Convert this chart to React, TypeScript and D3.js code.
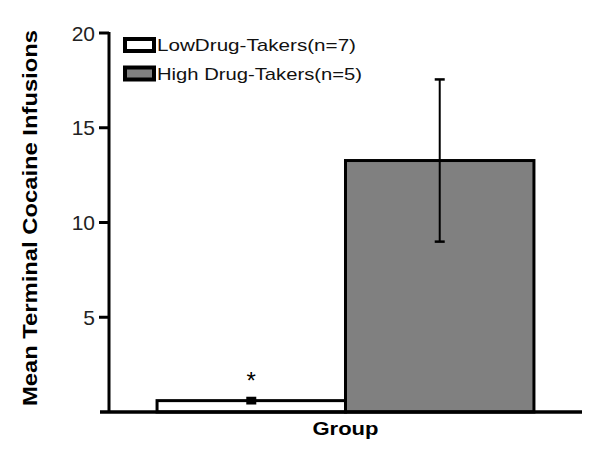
import React from "react";
import * as d3 from "d3";

const groups = ["LowDrug-Takers(n=7)", "High Drug-Takers(n=5)"];
const means = [0.6, 13.27];
const sems = [0.1, 4.28];
const fills = ["#ffffff", "#808080"];
const yTicks = [5, 10, 15, 20];
const yTitle = "Mean Terminal Cocaine Infusions";
const xTitle = "Group";
const legendWidths = [199, 205];

export default function App() {
  const W = 603, H = 455;
  const x0 = 109, x1 = 582;
  const y = d3.scaleLinear().domain([0, 20]).range([412, 33]);
  const x = d3.scaleBand<string>().domain(groups).range([x0, x1]).paddingInner(0).paddingOuter(0.255);
  const bw = x.bandwidth();
  const font = "Arial, 'Liberation Sans', sans-serif";
  const mid = (x(groups[0])! + x(groups[1])! + bw) / 2;

  return (
    <svg width={W} height={H} style={{ position: "absolute", left: 0, top: 0, background: "#fff" }}>
      <rect x={0} y={0} width={W} height={H} fill="#fff" />
      {/* bars */}
      {groups.map((g, i) => (
        <rect key={g} x={x(g)} y={y(means[i])} width={bw} height={y(0) - y(means[i])}
          fill={fills[i]} stroke="#000" strokeWidth={3} />
      ))}
      {/* error bars */}
      {groups.map((g, i) => {
        const cx = x(g)! + bw / 2;
        const yt = y(means[i] + sems[i]);
        const yb = y(means[i] - sems[i]);
        return (
          <g key={"e" + g} stroke="#000">
            <line x1={cx} x2={cx} y1={yt} y2={yb} strokeWidth={i === 0 ? 4 : 2} />
            <line x1={cx - 5} x2={cx + 5} y1={yt} y2={yt} strokeWidth={i === 0 ? 4 : 2.5} />
            <line x1={cx - 5} x2={cx + 5} y1={yb} y2={yb} strokeWidth={i === 0 ? 4 : 2.5} />
          </g>
        );
      })}
      {/* asterisk */}
      <text x={x(groups[0])! + bw / 2} y={y(means[0] + sems[0]) - 10} textAnchor="middle"
        fontFamily={font} fontSize={24} fill="#000">*</text>
      {/* axes */}
      <line x1={x0} x2={x0} y1={y(20) - 1} y2={y(0)} stroke="#000" strokeWidth={3} />
      <line x1={100} x2={x1} y1={y(0)} y2={y(0)} stroke="#000" strokeWidth={3.5} />
      {yTicks.map((t) => (
        <g key={t}>
          <line x1={x0 - 10} x2={x0} y1={y(t)} y2={y(t)} stroke="#000" strokeWidth={3} />
          <text x={x0 - 14} y={y(t)} dy="0.36em" textAnchor="end" fontFamily={font}
            fontSize={21} fill="#222">{t}</text>
        </g>
      ))}
      {/* y title */}
      <text transform={`translate(37,218) rotate(-90)`} textAnchor="middle" fontFamily={font}
        fontWeight="bold" fontSize={21} fill="#000" textLength={376} lengthAdjust="spacingAndGlyphs">{yTitle}</text>
      {/* x title */}
      <text x={mid} y={435} textAnchor="middle" fontFamily={font} fontWeight="bold" fontSize={18}
        fill="#000" textLength={66} lengthAdjust="spacingAndGlyphs">{xTitle}</text>
      {/* legend */}
      {groups.map((g, i) => {
        const cy = 45 + i * 28.5;
        return (
          <g key={"l" + g}>
            <rect x={125} y={cy - 6} width={29} height={12} fill={fills[i]} stroke="#000" strokeWidth={4} />
            <text x={157} y={cy} dy="0.36em" fontFamily={font} fontSize={17} fill="#111"
              textLength={legendWidths[i]} lengthAdjust="spacingAndGlyphs">{g}</text>
          </g>
        );
      })}
    </svg>
  );
}
